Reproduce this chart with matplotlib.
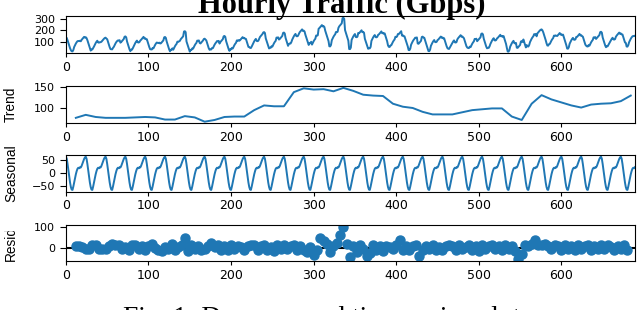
import numpy as np
import matplotlib
matplotlib.use('Agg')
import matplotlib.pyplot as plt
from matplotlib.transforms import Bbox

n_hours = 690
period = 24

# seasonal component for one day, by hour of day
seasonal_day = [63, 55, 35, 12, -12, -35, -52, -62, -63, -50, -34, -18,
                -4, 8, 17, 21, 19, 23, 22, 28, 37, 46, 54, 60]

# trend, read every 12 hours starting at hour 12
trend_start = 12
trend_step = 12
trend_values = [77, 84, 79, 77, 77, 77, 78, 79, 78, 73, 73, 81,
                78, 68, 72, 79, 80, 80, 95, 106, 104, 104, 137, 146,
                143, 144, 139, 147, 140, 131, 129, 128, 110, 103, 100, 91,
                85, 85, 85, 90, 95, 97, 99, 99, 80, 72, 110, 130,
                120, 113, 106, 101, 108, 110, 111, 116, 129]

# residuals, read every 4 hours starting at hour 12 (one row per day)
resid_start = 12
resid_step = 4
resid_rows = [
    [10, 8, 4, -8, -6, 15],
    [12, -7, -6, -5, 9, 18],
    [11, 13, -8, 6, -10, 14],
    [14, -5, 9, -12, 7, 16],
    [-3, -10, -16, 5, -6, 18],
    [-10, 6, 12, 48, -14, 12],
    [-6, 10, -12, -5, 8, 22],
    [5, 12, -11, 8, -9, 15],
    [-7, 10, 6, -10, 9, 12],
    [12, -10, 7, 15, -12, 5],
    [-14, 11, -8, 13, -6, 9],
    [14, -9, 8, -12, -20, 6],
    [-35, -10, 48, 30, 18, -18],
    [8, 25, 60, 100, 20, -43],
    [10, -20, 15, -8, -40, -25],
    [12, -10, 8, -14, 10, 6],
    [-8, 12, 35, -10, 9, -12],
    [7, 14, -38, -10, 8, -6],
    [12, -9, 6, -11, 10, 14],
    [9, -12, 13, -7, 5, 11],
    [-10, 8, -13, 12, -6, 9],
    [14, -8, 7, -12, 15, -5],
    [10, -14, -55, -30, 12, 10],
    [20, 35, 15, 15, 18, 8],
    [-6, 12, 9, -11, 14, -5],
    [10, -9, 13, -7, 8, 12],
    [-10, 9, -6, 14, -8, 11],
    [6, -12, 10, -7, 12, -10],
]

xticks = [0, 100, 200, 300, 400, 500, 600]
obs_ticks = [100, 200, 300]
trend_ticks = [100, 150]
seas_ticks = [-50, 0, 50]
resid_ticks = [0, 100]

title = 'Hourly Traffic (Gbps)'
caption = 'Fig. 1: Decomposed time series plot'

hours = np.arange(n_hours)
seasonal = np.tile(seasonal_day, n_hours // period + 1)[:n_hours]
trend = np.array(trend_values, dtype=float)
trend_x = trend_start + trend_step * np.arange(len(trend))
resid = np.array(resid_rows, dtype=float).ravel()
resid_x = resid_start + resid_step * np.arange(len(resid))

# observed = trend + seasonal + resid, each read value held over its own slot of hours
ti = np.clip(np.round((hours - trend_start) / trend_step).astype(int), 0, len(trend) - 1)
ri = np.round((hours - resid_start) / resid_step).astype(int)
ok = (ri >= 0) & (ri < len(resid))
resid_h = np.where(ok, resid[np.clip(ri, 0, len(resid) - 1)], 0.0)
observed = trend[ti] + seasonal + resid_h

blue = '#1f77b4'
plt.rcParams['font.family'] = 'DejaVu Sans'
plt.rcParams['font.size'] = 8

fig = plt.figure(figsize=(6.4, 3.1), dpi=100)
ax1 = fig.add_axes([0.103, 0.828, 0.889, 0.120])
ax2 = fig.add_axes([0.103, 0.602, 0.889, 0.120])
ax3 = fig.add_axes([0.103, 0.382, 0.889, 0.118])
ax4 = fig.add_axes([0.103, 0.158, 0.889, 0.116])

ax1.plot(hours, observed, color=blue, lw=1.4)
ax1.set_yticks(obs_ticks)

ax2.plot(trend_x, trend, color=blue, lw=1.4)
ax2.set_yticks(trend_ticks)
ax2.set_ylabel('Trend')

ax3.plot(hours, seasonal, color=blue, lw=1.4)
ax3.set_yticks(seas_ticks)
ax3.set_ylabel('Seasonal')

ax4.plot(resid_x, resid, marker='o', linestyle='none', ms=6.5, color=blue)
ax4.plot([0, n_hours - 1], [0, 0], color='#000000', zorder=-3)
ax4.set_yticks(resid_ticks)
ax4.set_ylabel('Resid')

lab_font = ['Liberation Sans Narrow', 'Liberation Sans']
for ax in (ax1, ax2, ax3, ax4):
    ax.set_xlim(0, n_hours - 1)
    ax.set_xticks(xticks)
    ax.tick_params(axis='x', length=3, pad=2.5, labelsize=9)
    ax.tick_params(axis='y', length=4, pad=4, labelsize=8)
    ax.yaxis.label.set_family(lab_font)
    ax.yaxis.label.set_size(9.9)
    ax.yaxis.set_label_coords(-0.084, 0.5)

# the Resid label is cut at the top in the source picture
ax4.yaxis.label.set_clip_box(Bbox.from_extents(0, 0, 640, 310 - 231))
ax4.yaxis.label.set_clip_on(True)

fig.text(0.534, 0.957, title, ha='center', va='baseline',
         family='Liberation Serif', weight='bold', fontsize=22)
fig.text(0.502, -0.048, caption, ha='center', va='baseline',
         family='Liberation Serif', fontsize=19.8)

fig.savefig('out.png', dpi=100)
